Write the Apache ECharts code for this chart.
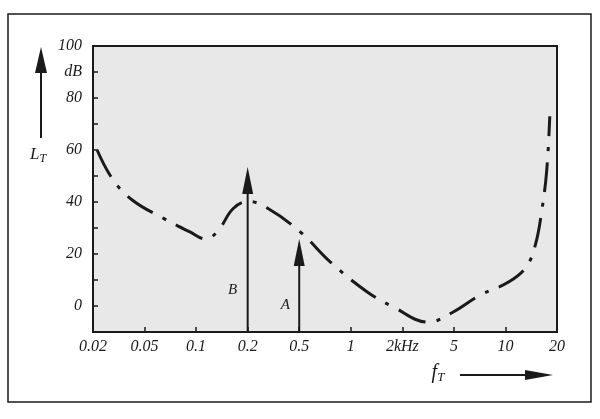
<!DOCTYPE html>
<html>
<head>
<meta charset="utf-8">
<script src="https://cdn.jsdelivr.net/npm/echarts@6/dist/echarts.min.js"></script>
<style>
html,body{margin:0;padding:0;background:#fff;}
#chart{width:600px;height:419px;}
</style>
</head>
<body>
<div id="chart"></div>
<script>
// x axis: equally spaced frequency tick labels (index positions 0..9)
const xLabels = ['0.02', '0.05', '0.1', '0.2', '0.5', '1', '2kHz', '5', '10', '20'];
// y axis tick labels
const yTickValues = [0, 20, 40, 60, 80, 90, 100];
const yTickTexts = ['0', '20', '40', '60', '80', 'dB', '100'];
// curve L_T (x in tick-index units, y in dB)
const curveX = [0.08, 0.39, 0.78, 1.36, 1.88, 2.18, 2.42, 2.72, 3.01, 3.38, 4.02, 4.60, 5.32, 5.83, 6.50, 6.97, 7.51, 8.06, 8.40, 8.58, 8.70, 8.80, 8.86];
const curveY = [60, 48.5, 40.5, 33.8, 28.5, 25.8, 28.8, 37.5, 40.2, 37.7, 28.5, 17, 5.4, -0.4, -6.2, -2.5, 4.2, 9.2, 15, 23.5, 36, 52, 73];
// marker arrows B and A
const arrowNames = ['B', 'A'];
const arrowX = [3, 4];
const arrowTop = [53.5, 25.8];

const ink = '#1a1a1a';
const serif = '"Liberation Serif", "DejaVu Serif", serif';

const chart = echarts.init(document.getElementById('chart'), null, {renderer: 'canvas'});

const option = {
  backgroundColor: '#ffffff',
  animation: false,
  grid: {
    left: 93, top: 46, width: 464, height: 286,
    show: true, backgroundColor: '#e8e8e8', borderColor: ink, borderWidth: 2
  },
  xAxis: {
    type: 'value', min: 0, max: 9, interval: 1,
    axisLine: {show: true, onZero: false, lineStyle: {color: ink, width: 2}},
    axisTick: {show: true, inside: true, length: 5, lineStyle: {color: ink, width: 1.5}},
    splitLine: {show: false},
    axisLabel: {
      margin: 7, color: ink, fontFamily: serif, fontStyle: 'italic', fontSize: 16,
      formatter: v => xLabels[Math.round(v)] || ''
    }
  },
  yAxis: {
    type: 'value', min: -10, max: 100, interval: 10,
    axisLine: {show: true, onZero: false, lineStyle: {color: ink, width: 2}},
    axisTick: {show: true, inside: true, length: 5, lineStyle: {color: ink, width: 1.5}},
    splitLine: {show: false},
    axisLabel: {
      margin: 11, color: ink, fontFamily: serif, fontStyle: 'italic', fontSize: 16,
      formatter: v => {
        const i = yTickValues.indexOf(v);
        return i >= 0 ? yTickTexts[i] : '';
      }
    }
  },
  series: [
    {
      type: 'line',
      data: curveX.map((x, i) => [x, curveY[i]]),
      showSymbol: false,
      smooth: 0.4,
      lineStyle: {color: ink, width: 3, type: [30, 11, 4, 11], cap: 'butt'},
      z: 3
    },
    {
      type: 'custom',
      data: arrowX.map((x, i) => [x, arrowTop[i]]),
      clip: false,
      z: 4,
      renderItem: (params, api) => {
        const x = api.value(0), top = api.value(1);
        const tip = api.coord([x, top]);
        const base = api.coord([x, -10]);
        const headH = 27, headW = 11;
        const lblDy = params.dataIndex === 0 ? 42 : 27;
        const lblDx = params.dataIndex === 0 ? 15 : 14;
        return {
          type: 'group',
          children: [
            {type: 'line', shape: {x1: tip[0], y1: base[1], x2: tip[0], y2: tip[1] + headH - 2},
             style: {stroke: ink, lineWidth: 2}},
            {type: 'polygon', shape: {points: [[tip[0], tip[1]], [tip[0] - headW / 2, tip[1] + headH], [tip[0] + headW / 2, tip[1] + headH]]},
             style: {fill: ink}},
            {type: 'text', x: tip[0] - lblDx, y: base[1] - lblDy,
             style: {text: arrowNames[params.dataIndex], font: 'italic 15px ' + serif, fill: ink, align: 'center', verticalAlign: 'middle'}}
          ]
        };
      }
    }
  ],
  graphic: [
    {type: 'rect', shape: {x: 8, y: 14, width: 583, height: 388}, style: {fill: 'none', stroke: ink, lineWidth: 1.5}, silent: true},
    // y axis name arrow
    {type: 'line', shape: {x1: 41, y1: 138, x2: 41, y2: 70}, style: {stroke: ink, lineWidth: 2}},
    {type: 'polygon', shape: {points: [[41, 47], [35, 73], [47, 73]]}, style: {fill: ink}},
    {type: 'text', x: 38, y: 155, style: {
      text: '{l|L}{s|T}', align: 'center', verticalAlign: 'middle',
      rich: {l: {font: 'italic 17px ' + serif, fill: ink}, s: {font: 'italic 12px ' + serif, fill: ink, padding: [8, 0, 0, 0]}}
    }},
    // x axis name arrow
    {type: 'line', shape: {x1: 460, y1: 375, x2: 530, y2: 375}, style: {stroke: ink, lineWidth: 2}},
    {type: 'polygon', shape: {points: [[553, 375], [525, 370], [525, 380]]}, style: {fill: ink}},
    {type: 'text', x: 438, y: 373, style: {
      text: '{l|f}{s|T}', align: 'center', verticalAlign: 'middle',
      rich: {l: {font: 'italic 20px ' + serif, fill: ink}, s: {font: 'italic 13px ' + serif, fill: ink, padding: [10, 0, 0, 0]}}
    }}
  ]
};

chart.setOption(option);
</script>
</body>
</html>
